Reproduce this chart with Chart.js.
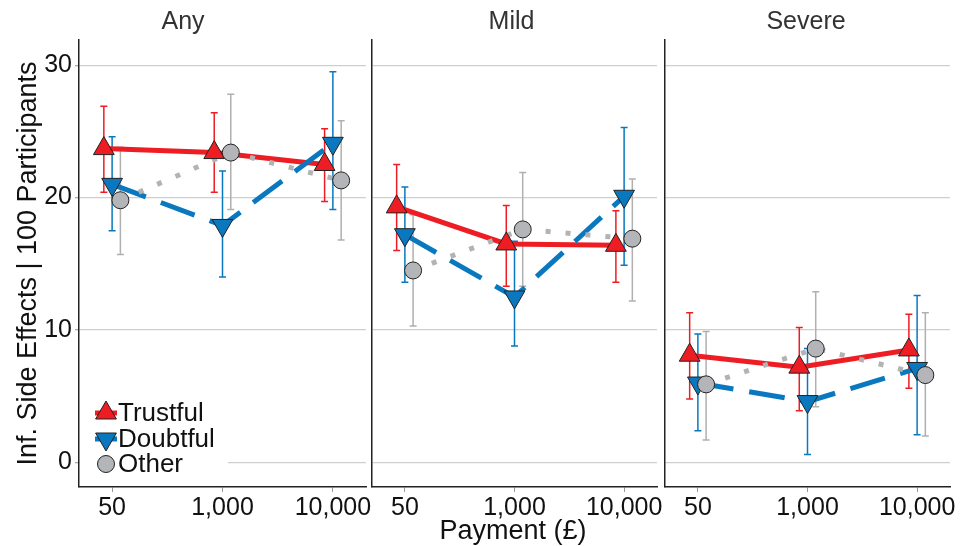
<!DOCTYPE html>
<html><head><meta charset="utf-8">
<script src="https://cdn.jsdelivr.net/npm/chart.js@4.4.1/dist/chart.umd.min.js"></script>
<style>
html,body{margin:0;padding:0;background:#fff;}
body{width:963px;height:546px;position:relative;overflow:hidden;font-family:"Liberation Sans",Arial,sans-serif;}
.pn{position:absolute;top:0;}
#xt{position:absolute;left:0;width:1026px;top:514px;text-align:center;font-size:27px;color:#111;line-height:32px;}
</style></head>
<body>
<div class="pn" style="left:0px"><canvas id="c0" width="400" height="546"></canvas></div>
<div class="pn" style="left:340px"><canvas id="c1" width="350" height="546"></canvas></div>
<div class="pn" style="left:634px"><canvas id="c2" width="329" height="546"></canvas></div>
<div id="xt">Payment (£)</div>
<script>
// ---- data ----
const categories = ['50', '1,000', '10,000'];
const panels = ['Any', 'Mild', 'Severe'];
const seriesNames = ['Trustful', 'Doubtful', 'Other'];
const yTicks = [0, 10, 20, 30];

// Any
const anyTrustful    = [23.7, 23.4, 22.5];
const anyTrustfulLo  = [20.4, 20.4, 19.7];
const anyTrustfulHi  = [26.9, 26.4, 25.2];
const anyDoubtful    = [21.0, 17.9, 24.1];
const anyDoubtfulLo  = [17.5, 14.0, 19.1];
const anyDoubtfulHi  = [24.6, 22.0, 29.5];
const anyOther       = [19.8, 23.4, 21.3];
const anyOtherLo     = [15.7, 19.1, 16.8];
const anyOtherHi     = [23.8, 27.8, 25.8];
// Mild
const mildTrustful   = [19.3, 16.5, 16.4];
const mildTrustfulLo = [16.0, 13.3, 13.6];
const mildTrustfulHi = [22.5, 19.4, 19.0];
const mildDoubtful   = [17.2, 12.5, 20.1];
const mildDoubtfulLo = [13.6, 8.8, 14.9];
const mildDoubtfulHi = [20.8, 16.7, 25.3];
const mildOther      = [14.5, 17.6, 16.9];
const mildOtherLo    = [10.3, 13.3, 12.2];
const mildOtherHi    = [18.7, 21.9, 21.4];
// Severe
const sevTrustful    = [8.1, 7.2, 8.5];
const sevTrustfulLo  = [4.8, 3.9, 5.6];
const sevTrustfulHi  = [11.3, 10.2, 11.2];
const sevDoubtful    = [6.0, 4.6, 7.1];
const sevDoubtfulLo  = [2.4, 0.6, 2.1];
const sevDoubtfulHi  = [9.7, 8.6, 12.6];
const sevOther       = [5.9, 8.6, 6.6];
const sevOtherLo     = [1.7, 4.2, 2.0];
const sevOtherHi     = [9.9, 12.9, 11.3];

const panelData = [
  {T:[anyTrustful, anyTrustfulLo, anyTrustfulHi], D:[anyDoubtful, anyDoubtfulLo, anyDoubtfulHi], O:[anyOther, anyOtherLo, anyOtherHi]},
  {T:[mildTrustful, mildTrustfulLo, mildTrustfulHi], D:[mildDoubtful, mildDoubtfulLo, mildDoubtfulHi], O:[mildOther, mildOtherLo, mildOtherHi]},
  {T:[sevTrustful, sevTrustfulLo, sevTrustfulHi], D:[sevDoubtful, sevDoubtfulLo, sevDoubtfulHi], O:[sevOther, sevOtherLo, sevOtherHi]}
];

// ---- styles ----
const RED = '#EE1D23', BLUE = '#0A78BF', GREYF = '#B4B5B8', GREYL = '#B3B3B3', GREYE = '#B0B0B0';
const FONT = '"Liberation Sans", Arial, Helvetica, sans-serif';
const style = {
  T: {color: RED, fill: RED, err: RED, dash: [], ps: 'triangle', r: 12, rot: 0, off: -0.075},
  D: {color: BLUE, fill: BLUE, err: BLUE, dash: [36, 16], ps: 'triangle', r: 12, rot: 180, off: 0},
  O: {color: GREYL, fill: GREYF, err: GREYE, dash: [5, 15], ps: 'circle', r: 8.5, rot: 0, off: 0.075}
};
const keys = ['T', 'D', 'O'];
// per-panel canvas paddings so the plot areas line up: [left, right]
const pads = [[0, 34], [26, 33], [25, 10]];

const errPlugin = {
  id: 'errbars',
  beforeDatasetsDraw(chart) {
    const cfg = chart.options.plugins.errbars;
    if (!cfg) return;
    const ctx = chart.ctx, xs = chart.scales.x, ys = chart.scales.y;
    ctx.save();
    cfg.series.forEach(s => {
      ctx.strokeStyle = s.color; ctx.lineWidth = 1.5;
      s.lo.forEach((lo, i) => {
        const x = xs.getPixelForValue(i + s.off);
        const y1 = ys.getPixelForValue(lo), y2 = ys.getPixelForValue(s.hi[i]);
        ctx.beginPath();
        ctx.moveTo(x, y1); ctx.lineTo(x, y2);
        ctx.moveTo(x - 3.5, y1); ctx.lineTo(x + 3.5, y1);
        ctx.moveTo(x - 3.5, y2); ctx.lineTo(x + 3.5, y2);
        ctx.stroke();
      });
    });
    ctx.restore();
  }
};

const legendPlugin = {
  id: 'inlegend',
  afterDraw(chart) {
    const cfg = chart.options.plugins.inlegend;
    if (!cfg || !cfg.show) return;
    const ctx = chart.ctx;
    const a = chart.chartArea;
    ctx.save();
    ctx.fillStyle = '#fff';
    ctx.fillRect(a.left + 1, 398, 148, 78);
    const rows = [413, 439, 464];
    keys.forEach((k, i) => {
      const st = style[k], y = rows[i], x = 106;
      ctx.strokeStyle = st.color; ctx.lineWidth = 5; ctx.setLineDash([]);
      if (k !== 'O') { ctx.beginPath(); ctx.moveTo(x - 11, y); ctx.lineTo(x + 11, y); ctx.stroke(); }
      ctx.fillStyle = st.fill; ctx.strokeStyle = '#222'; ctx.lineWidth = 1;
      Chart.helpers.drawPoint(ctx, {pointStyle: st.ps, rotation: st.rot, radius: st.r, borderWidth: 1}, x, y);
      ctx.fillStyle = '#111';
      ctx.font = '26px ' + FONT;
      ctx.textBaseline = 'middle'; ctx.textAlign = 'left';
      ctx.fillText(seriesNames[i], 118, y + 1);
    });
    ctx.restore();
  }
};

function makeChart(idx) {
  const pd = panelData[idx];
  const first = idx === 0;
  const datasets = [];
  ['O', 'D', 'T'].forEach(k => {
    const st = style[k];
    datasets.push({
      label: seriesNames[keys.indexOf(k)],
      data: pd[k][0].map((v, i) => ({x: i + st.off, y: v})),
      showLine: false,
      pointStyle: st.ps, pointRadius: st.r, pointRotation: st.rot,
      pointBackgroundColor: st.fill, pointBorderColor: '#222', pointBorderWidth: 1,
      pointHoverRadius: st.r
    });
  });
  ['O', 'D', 'T'].forEach(k => {
    const st = style[k];
    datasets.push({
      label: seriesNames[keys.indexOf(k)] + ' line',
      data: pd[k][0].map((v, i) => ({x: i + st.off, y: v})),
      showLine: true, borderColor: st.color, borderWidth: 5, borderDash: st.dash,
      borderCapStyle: 'butt', borderJoinStyle: 'miter', pointRadius: 0, pointHoverRadius: 0,
      tension: 0, fill: false
    });
  });
  const errSeries = keys.map(k => ({color: style[k].err, off: style[k].off, lo: pd[k][1], hi: pd[k][2]}));

  return new Chart(document.getElementById('c' + idx), {
    type: 'scatter',
    data: {datasets},
    plugins: [errPlugin, legendPlugin],
    options: {
      responsive: false, maintainAspectRatio: false, animation: false,
      events: [],
      layout: {padding: {left: pads[idx][0], right: pads[idx][1], top: 0, bottom: 0}},
      plugins: {
        legend: {display: false}, tooltip: {enabled: false},
        title: {display: true, text: panels[idx], color: '#333', font: {family: FONT, size: 25, weight: 'normal'}, padding: {top: 7, bottom: 3}},
        errbars: {series: errSeries},
        inlegend: {show: first}
      },
      scales: {
        x: {
          type: 'linear', min: -0.3, max: 2.3,
          afterBuildTicks: s => { s.ticks = categories.map((c, i) => ({value: i})); },
          afterFit: s => { s.height = 59; s.paddingLeft = 0; s.paddingRight = 0; },
          ticks: {callback: v => categories[v], color: '#111', font: {family: FONT, size: 25}, padding: 1, maxRotation: 0, autoSkip: false},
          grid: {display: true, drawOnChartArea: false, drawTicks: true, tickLength: 5, color: '#999', tickColor: '#999'},
          border: {display: true, color: '#222', width: 1.5}
        },
        y: {
          type: 'linear', min: -1.85, max: 31.9,
          afterBuildTicks: s => { s.ticks = yTicks.map(v => ({value: v})); },
          afterFit: s => { s.width = first ? 79 : 6; s.paddingTop = 0; s.paddingBottom = 0; },
          ticks: {display: first, color: '#111', font: {family: FONT, size: 25}, padding: 3},
          grid: {color: '#CFCFCF', lineWidth: 1.3, drawTicks: first, tickLength: 4, tickColor: '#AAA'},
          border: {display: true, color: '#222', width: 1.5},
          title: {display: first, text: 'Inf. Side Effects | 100 Participants', color: '#111', font: {family: FONT, size: 27}, padding: {top: 12, bottom: 0}}
        }
      }
    }
  });
}
[0, 1, 2].forEach(makeChart);
</script>
</body></html>
